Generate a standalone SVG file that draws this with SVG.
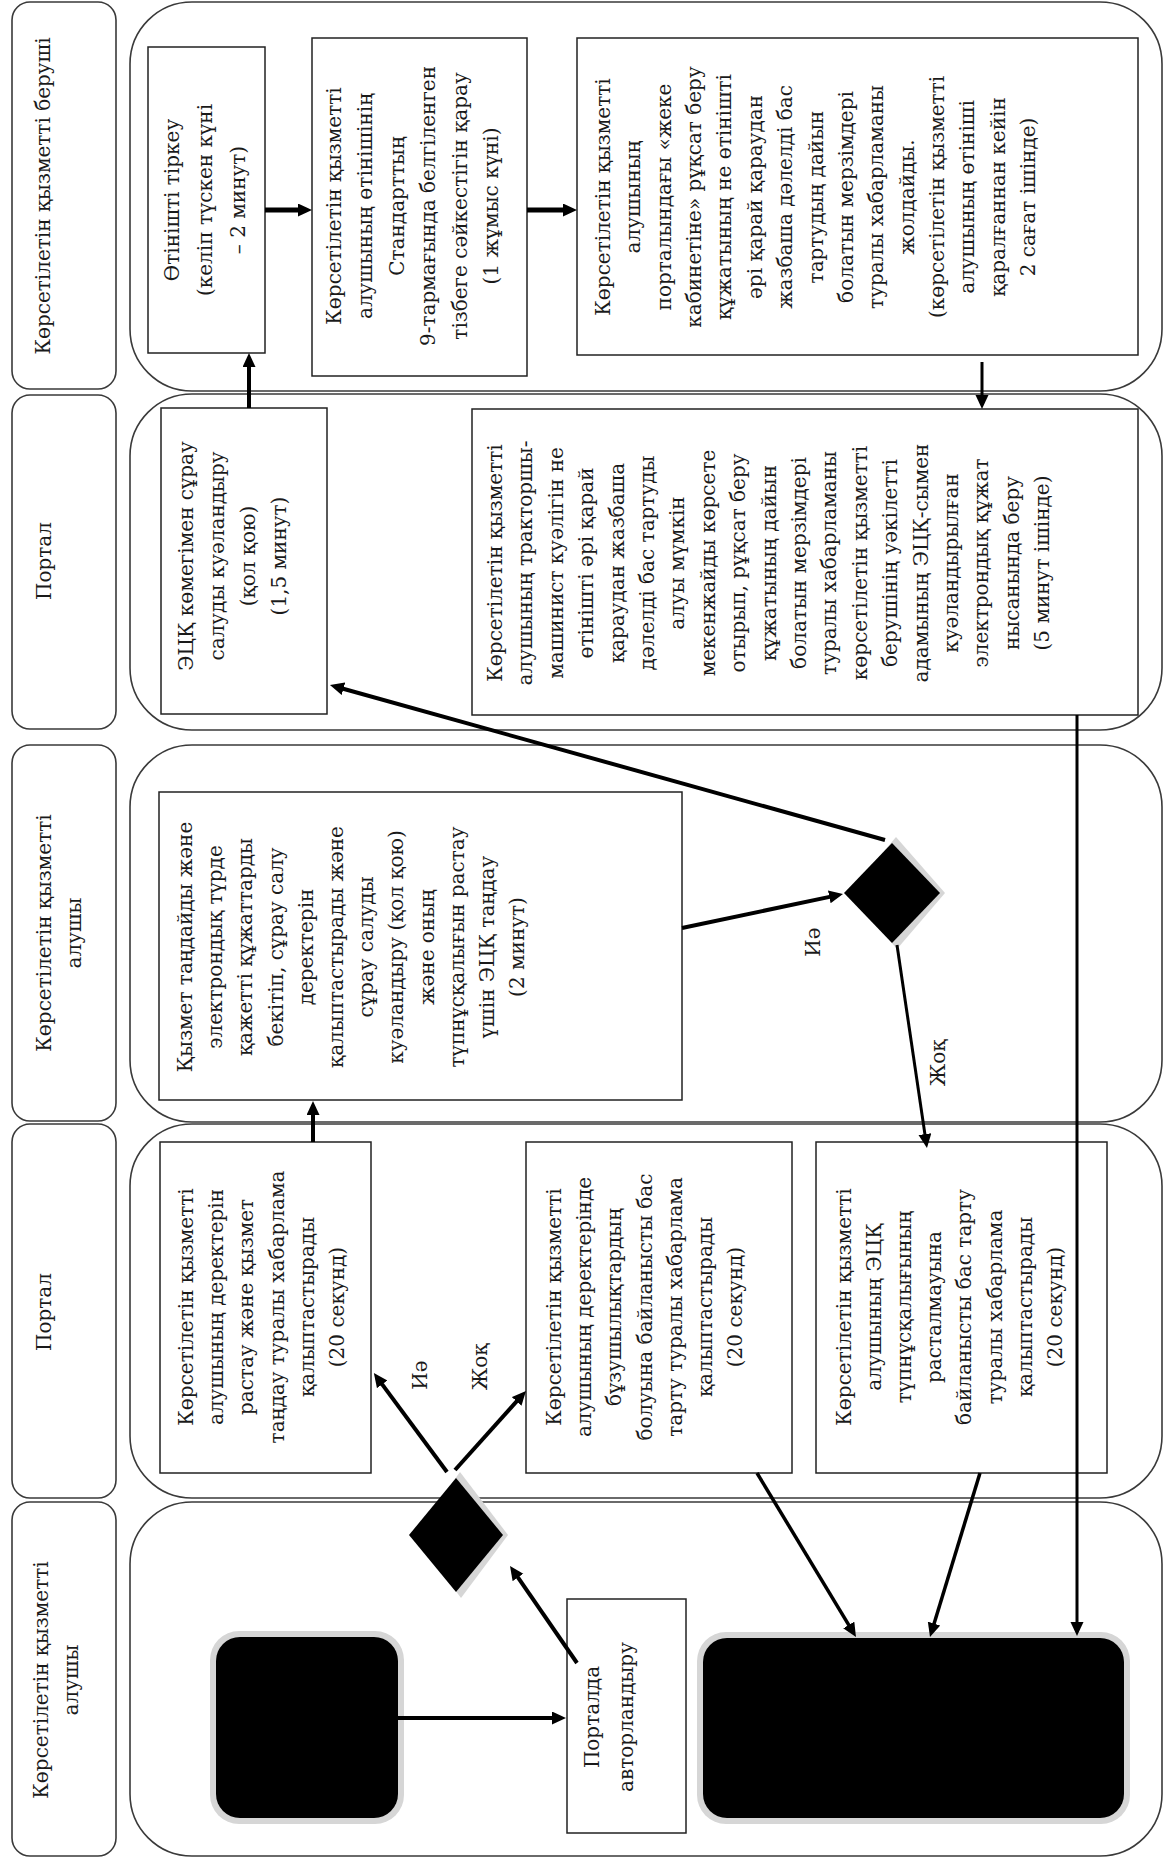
<svg xmlns="http://www.w3.org/2000/svg" width="1167" height="1860" viewBox="0 0 1167 1860">
<style>
.lane{fill:#fff;stroke:#3a3a3a;stroke-width:1.6}
.lab{fill:#fff;stroke:#3a3a3a;stroke-width:1.6}
.box{fill:#fff;stroke:#222;stroke-width:1.5}
.t{font-family:"DejaVu Serif","Liberation Serif",serif;font-size:20px;fill:#1a1a1a;text-anchor:middle}
.c{fill:none;stroke:#000;stroke-linecap:butt}
.halo{fill:#d6d6d6}
.blk{fill:#000}
</style>
<defs>
<marker id="ah" markerUnits="userSpaceOnUse" markerWidth="16" markerHeight="14" refX="4" refY="6.5" orient="auto">
<path d="M0,0 L14,6.5 L0,13 z" fill="#000"/>
</marker>
</defs>
<rect width="1167" height="1860" fill="#fff"/>

<g id="lanes">
<rect class="lab" x="12" y="2" width="104" height="387" rx="18"/>
<rect class="lane" x="130" y="2" width="1032" height="389" rx="62"/>
<rect class="lab" x="12" y="395" width="104" height="334" rx="18"/>
<rect class="lane" x="130" y="394" width="1032" height="336" rx="62"/>
<rect class="lab" x="12" y="745" width="104" height="376" rx="18"/>
<rect class="lane" x="130" y="745" width="1032" height="377" rx="62"/>
<rect class="lab" x="12" y="1124" width="104" height="374" rx="18"/>
<rect class="lane" x="130" y="1124" width="1032" height="374" rx="62"/>
<rect class="lab" x="12" y="1502" width="104" height="354" rx="18"/>
<rect class="lane" x="130" y="1502" width="1032" height="354" rx="62"/>
<text class="t" transform="translate(50,196) rotate(-90)"><tspan x="0" y="0">Көрсетілетін қызметті беруші</tspan></text>
<text class="t" transform="translate(51,561) rotate(-90)"><tspan x="0" y="0">Портал</tspan></text>
<text class="t" transform="translate(51,933) rotate(-90)"><tspan x="0" y="0">Көрсетілетін қызметті</tspan><tspan x="0" y="30">алушы</tspan></text>
<text class="t" transform="translate(51,1312) rotate(-90)"><tspan x="0" y="0">Портал</tspan></text>
<text class="t" transform="translate(48,1680) rotate(-90)"><tspan x="0" y="0">Көрсетілетін қызметті</tspan><tspan x="0" y="30">алушы</tspan></text>
</g>

<g id="n-register">
<rect class="box" x="148" y="47" width="117" height="306"/>
<text class="t" transform="translate(179,200) rotate(-90)"><tspan x="0" y="0">Өтінішті тіркеу</tspan><tspan x="0" y="33">(келіп түскен күні</tspan><tspan x="0" y="66">– 2 минут)</tspan></text>
</g>

<g id="n-check">
<rect class="box" x="312" y="38" width="215" height="338"/>
<text class="t" transform="translate(341,206) rotate(-90)"><tspan x="0" y="0">Көрсетілетін қызметті</tspan><tspan x="0" y="31.4">алушының өтінішінің</tspan><tspan x="0" y="62.8">Стандарттың</tspan><tspan x="0" y="94.2">9-тармағында белгіленген</tspan><tspan x="0" y="125.6">тізбеге  сәйкестігін қарау</tspan><tspan x="0" y="157">(1 жұмыс күні)</tspan></text>
</g>

<g id="n-send">
<rect class="box" x="577" y="38" width="561" height="317"/>
<text class="t" transform="translate(610,197) rotate(-90)"><tspan x="0" y="0">Көрсетілетін қызметті</tspan><tspan x="0" y="30.36">алушының</tspan><tspan x="0" y="60.72">порталындағы «жеке</tspan><tspan x="0" y="91.08">кабинетіне» рұқсат беру</tspan><tspan x="0" y="121.44">құжатының не өтінішті</tspan><tspan x="0" y="151.8">әрі қарай қараудан</tspan><tspan x="0" y="182.16">жазбаша дәлелді бас</tspan><tspan x="0" y="212.52">тартудың дайын</tspan><tspan x="0" y="242.88">болатын мерзімдері</tspan><tspan x="0" y="273.24">туралы хабарламаны</tspan><tspan x="0" y="303.6">жолдайды.</tspan><tspan x="0" y="333.96">(көрсетілетін қызметті</tspan><tspan x="0" y="364.32">алушының өтініші</tspan><tspan x="0" y="394.68">қаралғаннан кейін</tspan><tspan x="0" y="425.04">2 сағат ішінде)</tspan></text>
</g>

<g id="n-sign">
<rect class="box" x="161" y="408" width="166" height="306"/>
<text class="t" transform="translate(193,556) rotate(-90)"><tspan x="0" y="0">ЭЦҚ көмегімен сұрау</tspan><tspan x="0" y="31">салуды куәландыру</tspan><tspan x="0" y="62">(қол қою)</tspan><tspan x="0" y="93">(1,5 минут)</tspan></text>
</g>

<g id="n-issue">
<rect class="box" x="472" y="409" width="666" height="306"/>
<text class="t" transform="translate(502,563) rotate(-90)"><tspan x="0" y="0">Көрсетілетін қызметті</tspan><tspan x="0" y="30.4">алушының тракторшы-</tspan><tspan x="0" y="60.8">машинист куәлігін не</tspan><tspan x="0" y="91.2">өтінішті әрі қарай</tspan><tspan x="0" y="121.6">қараудан жазбаша</tspan><tspan x="0" y="152">дәлелді бас тартуды</tspan><tspan x="0" y="182.4">алуы мүмкін</tspan><tspan x="0" y="212.8">мекенжайды көрсете</tspan><tspan x="0" y="243.2">отырып, рұқсат беру</tspan><tspan x="0" y="273.6">құжатының дайын</tspan><tspan x="0" y="304">болатын мерзімдері</tspan><tspan x="0" y="334.4">туралы хабарламаны</tspan><tspan x="0" y="364.8">көрсетілетін қызметті</tspan><tspan x="0" y="395.2">берушінің уәкілетті</tspan><tspan x="0" y="425.6">адамының ЭЦҚ-сымен</tspan><tspan x="0" y="456">куәландырылған</tspan><tspan x="0" y="486.4">электрондық құжат</tspan><tspan x="0" y="516.8">нысанында беру</tspan><tspan x="0" y="547.2">(5 минут ішінде)</tspan></text>
</g>

<g id="n-select">
<rect class="box" x="159" y="792" width="523" height="308"/>
<text class="t" transform="translate(192,947) rotate(-90)"><tspan x="0" y="0">Қызмет таңдайды және</tspan><tspan x="0" y="30.2">электрондық түрде</tspan><tspan x="0" y="60.4">қажетті құжаттарды</tspan><tspan x="0" y="90.6">бекітіп, сұрау салу</tspan><tspan x="0" y="120.8">деректерін</tspan><tspan x="0" y="151">қалыптастырады және</tspan><tspan x="0" y="181.2">сұрау салуды</tspan><tspan x="0" y="211.4">куәландыру (қол қою)</tspan><tspan x="0" y="241.6">және оның</tspan><tspan x="0" y="271.8">түпнұсқалығын растау</tspan><tspan x="0" y="302">үшін ЭЦҚ таңдау</tspan><tspan x="0" y="332.2">(2 минут)</tspan></text>
</g>

<g id="d-ecp">
<polygon class="halo" points="896,837 945,893 897,949 849,893"/>
<polygon class="blk" points="892,843 940,893 892,943 844,893"/>
</g>

<g id="n-confirm">
<rect class="box" x="160" y="1142" width="211" height="331"/>
<text class="t" transform="translate(193,1307) rotate(-90)"><tspan x="0" y="0">Көрсетілетін қызметті</tspan><tspan x="0" y="30.2">алушының деректерін</tspan><tspan x="0" y="60.4">растау және қызмет</tspan><tspan x="0" y="90.6">таңдау туралы хабарлама</tspan><tspan x="0" y="120.8">қалыптастырады</tspan><tspan x="0" y="151">(20 секунд)</tspan></text>
</g>

<g id="n-reject-data">
<rect class="box" x="526" y="1142" width="266" height="331"/>
<text class="t" transform="translate(561,1307) rotate(-90)"><tspan x="0" y="0">Көрсетілетін қызметті</tspan><tspan x="0" y="30.2">алушының деректерінде</tspan><tspan x="0" y="60.4">бұзушылықтардың</tspan><tspan x="0" y="90.6">болуына байланысты бас</tspan><tspan x="0" y="120.8">тарту туралы хабарлама</tspan><tspan x="0" y="151">қалыптастырады</tspan><tspan x="0" y="181.2">(20 секунд)</tspan></text>
</g>

<g id="n-reject-ecp">
<rect class="box" x="816" y="1142" width="291" height="331"/>
<text class="t" transform="translate(851,1307) rotate(-90)"><tspan x="0" y="0">Көрсетілетін қызметті</tspan><tspan x="0" y="30.1">алушының ЭЦҚ</tspan><tspan x="0" y="60.2">түпнұсқалығының</tspan><tspan x="0" y="90.3">расталмауына</tspan><tspan x="0" y="120.4">байланысты бас тарту</tspan><tspan x="0" y="150.5">туралы хабарлама</tspan><tspan x="0" y="180.6">қалыптастырады</tspan><tspan x="0" y="210.7">(20 секунд)</tspan></text>
</g>

<g id="d-data">
<polygon class="halo" points="460,1472 508,1535 461,1598 414,1535"/>
<polygon class="blk" points="456,1478 503,1535 456,1592 409,1535"/>
</g>

<g id="n-start">
<rect class="halo" x="210" y="1631" width="194" height="193" rx="29"/>
<rect class="blk" x="216" y="1637" width="182" height="181" rx="24"/>
</g>

<g id="n-auth">
<rect class="box" x="567" y="1599" width="119" height="234"/>
<text class="t" transform="translate(599,1717) rotate(-90)"><tspan x="0" y="0">Порталда</tspan><tspan x="0" y="34">авторландыру</tspan></text>
</g>

<g id="n-end">
<rect class="halo" x="697" y="1632" width="433" height="192" rx="29"/>
<rect class="blk" x="703" y="1638" width="421" height="180" rx="24"/>
</g>

<g id="connectors">
<line class="c" x1="265" y1="210" x2="302" y2="210" stroke-width="5" marker-end="url(#ah)"/>
<line class="c" x1="527" y1="210" x2="567" y2="210" stroke-width="5" marker-end="url(#ah)"/>
<line class="c" x1="249" y1="408" x2="249" y2="363" stroke-width="4" marker-end="url(#ah)"/>
<line class="c" x1="982" y1="362" x2="982" y2="399" stroke-width="3" marker-end="url(#ah)"/>
<line class="c" x1="885" y1="840" x2="339.6" y2="687.7" stroke-width="4" marker-end="url(#ah)"/>
<line class="c" x1="682" y1="928" x2="833.2" y2="896.1" stroke-width="4" marker-end="url(#ah)"/>
<line class="c" x1="897" y1="945" x2="925.5" y2="1138.1" stroke-width="3" marker-end="url(#ah)"/>
<line class="c" x1="1077" y1="715" x2="1077" y2="1626" stroke-width="3" marker-end="url(#ah)"/>
<line class="c" x1="313" y1="1142" x2="313" y2="1111" stroke-width="4" marker-end="url(#ah)"/>
<line class="c" x1="447" y1="1472" x2="379.8" y2="1381.1" stroke-width="4" marker-end="url(#ah)"/>
<line class="c" x1="455" y1="1470" x2="519.3" y2="1398.4" stroke-width="4" marker-end="url(#ah)"/>
<line class="c" x1="757" y1="1473" x2="850.8" y2="1628.4" stroke-width="3.5" marker-end="url(#ah)"/>
<line class="c" x1="980" y1="1473" x2="932.9" y2="1627.4" stroke-width="3.5" marker-end="url(#ah)"/>
<line class="c" x1="398" y1="1718" x2="556" y2="1718" stroke-width="4" marker-end="url(#ah)"/>
<line class="c" x1="577" y1="1663" x2="515.7" y2="1574.2" stroke-width="4" marker-end="url(#ah)"/>
<text class="t" transform="translate(820,942) rotate(-90)"><tspan x="0" y="0">Иә</tspan></text>
<text class="t" transform="translate(945,1063) rotate(-90)"><tspan x="0" y="0">Жоқ</tspan></text>
<text class="t" transform="translate(427,1375) rotate(-90)"><tspan x="0" y="0">Иә</tspan></text>
<text class="t" transform="translate(487,1367) rotate(-90)"><tspan x="0" y="0">Жоқ</tspan></text>
</g>
</svg>
